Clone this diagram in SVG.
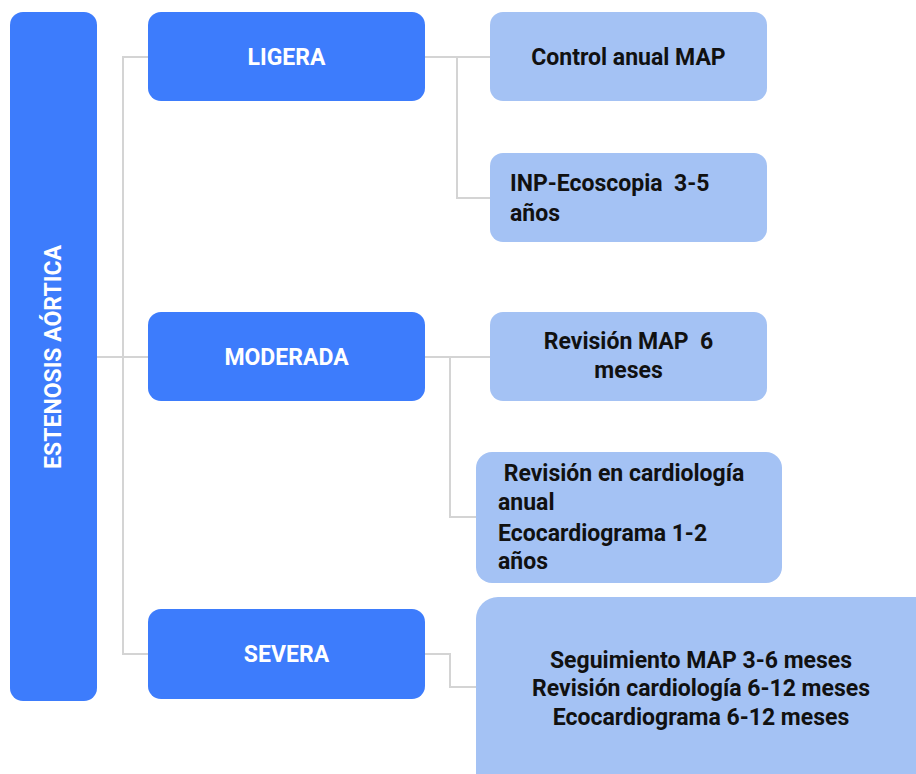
<svg xmlns="http://www.w3.org/2000/svg" width="916" height="774" viewBox="0 0 916 774" xml:space="preserve">
  <style>
    .main { fill: #3d7cfc; }
    .sub { fill: #a4c2f4; }
    .t { font-family: Roboto, "Liberation Sans", sans-serif; font-weight: bold; font-size: 23px; white-space: pre; }
    .w { fill: #ffffff; }
    .k { fill: #111111; }
    .link { fill: none; stroke: #d4d4d4; stroke-width: 2; }
  </style>
  <rect width="916" height="774" fill="#ffffff"/>

  <!-- connectors -->
  <g id="connectors">
    <polyline class="link" points="97,357 148,357"/>
    <polyline class="link" points="148,57 123,57 123,654 148,654"/>
    <polyline class="link" points="425,57 490,57"/>
    <polyline class="link" points="457,57 457,198 490,198"/>
    <polyline class="link" points="425,357 490,357"/>
    <polyline class="link" points="450,357 450,517 476,517"/>
    <polyline class="link" points="425,654 450,654 450,687 476,687"/>
  </g>

  <!-- root -->
  <g id="estenosis">
    <rect class="main" x="10" y="12" width="87" height="689" rx="13"/>
    <text class="t w" transform="translate(61,357) rotate(-90)" text-anchor="middle">ESTENOSIS AÓRTICA</text>
  </g>

  <!-- severity levels -->
  <g id="ligera">
    <rect class="main" x="148" y="12" width="277" height="89" rx="13"/>
    <text class="t w" x="286.5" y="65" text-anchor="middle">LIGERA</text>
  </g>
  <g id="moderada">
    <rect class="main" x="148" y="312" width="277" height="89" rx="13"/>
    <text class="t w" x="286.5" y="365" text-anchor="middle">MODERADA</text>
  </g>
  <g id="severa">
    <rect class="main" x="148" y="609" width="277" height="90" rx="13"/>
    <text class="t w" x="286.5" y="662" text-anchor="middle">SEVERA</text>
  </g>

  <!-- follow-up actions -->
  <g id="control-anual">
    <rect class="sub" x="490" y="12" width="277" height="89" rx="13"/>
    <text class="t k" x="628.5" y="65" text-anchor="middle">Control anual MAP</text>
  </g>
  <g id="inp-ecoscopia">
    <rect class="sub" x="490" y="153" width="277" height="89" rx="13"/>
    <text class="t k" x="510" y="191">INP-Ecoscopia  3-5</text>
    <text class="t k" x="510" y="221">años</text>
  </g>
  <g id="revision-map">
    <rect class="sub" x="490" y="312" width="277" height="89" rx="13"/>
    <text class="t k" x="628.5" y="349" text-anchor="middle">Revisión MAP  6</text>
    <text class="t k" x="628.5" y="378" text-anchor="middle">meses</text>
  </g>
  <g id="revision-cardiologia">
    <rect class="sub" x="476" y="452" width="306" height="131" rx="16"/>
    <text class="t k" x="498" y="481"> Revisión en cardiología</text>
    <text class="t k" x="498" y="510">anual</text>
    <text class="t k" x="498" y="541">Ecocardiograma 1-2</text>
    <text class="t k" x="498" y="569">años</text>
  </g>
  <g id="seguimiento-severa">
    <rect class="sub" x="476" y="597" width="460" height="200" rx="22"/>
    <text class="t k" x="701" y="668" text-anchor="middle">Seguimiento MAP 3-6 meses</text>
    <text class="t k" x="701" y="696" text-anchor="middle">Revisión cardiología 6-12 meses</text>
    <text class="t k" x="701" y="725" text-anchor="middle">Ecocardiograma 6-12 meses</text>
  </g>
</svg>
